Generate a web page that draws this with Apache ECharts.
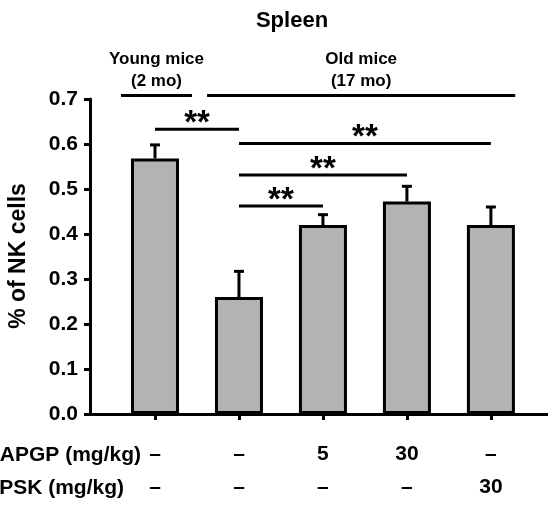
<!DOCTYPE html>
<html>
<head>
<meta charset="utf-8">
<script src="https://cdn.jsdelivr.net/npm/echarts@6/dist/echarts.min.js"></script>
<style>
  html, body { margin: 0; padding: 0; background: #fff; }
  #chart { width: 548px; height: 507px; }
</style>
</head>
<body>
<div id="chart"></div>
<script>
// 数据
const groupIdx = [0, 1, 2, 3, 4];
const apgpDose = ['–', '–', '5', '30', '–'];
const pskDose = ['–', '–', '–', '–', '30'];
const nkMean = [0.568, 0.26, 0.42, 0.472, 0.42];
const nkErr = [0.03, 0.057, 0.023, 0.034, 0.04];
// 显著性标记 [起点, 终点, 高度]
const sigFrom = [0, 1, 1, 1];
const sigTo = [1, 4, 3, 2];
const sigY = [0.633, 0.601, 0.531, 0.462];
const sigText = ['**', '**', '**', '**'];
// 分组标题
const headFrom = [-0.405, 0.62];
const headTo = [0.44, 4.29];
const headText = ['Young mice\n(2 mo)', 'Old mice\n(17 mo)'];
const headY = 0.708;

const FONT = '"Liberation Sans", Arial, sans-serif';

let chart = echarts.init(document.getElementById('chart'));

chart.setOption({
  animation: false,
  grid: { left: 90, right: 0, top: 99, height: 315 },
  xAxis: {
    type: 'value',
    min: -0.774,
    max: 4.68,
    splitLine: { show: false },
    axisLine: { show: true, onZero: false, lineStyle: { color: '#000', width: 3 } },
    axisTick: { show: true, customValues: groupIdx, length: 6, lineStyle: { color: '#000', width: 3 } },
    axisLabel: {
      customValues: groupIdx,
      margin: 24,
      formatter: function (v) {
        let i = Math.round(v);
        return apgpDose[i] + '\n' + pskDose[i];
      },
      fontFamily: FONT,
      fontWeight: 'bold',
      fontSize: 21,
      lineHeight: 33,
      color: '#000'
    }
  },
  yAxis: {
    type: 'value',
    min: 0,
    max: 0.7,
    interval: 0.1,
    splitLine: { show: false },
    axisLine: { show: true, onZero: false, lineStyle: { color: '#000', width: 3 } },
    axisTick: { show: true, length: 6, lineStyle: { color: '#000', width: 3 } },
    axisLabel: {
      margin: 12,
      formatter: v => v.toFixed(1),
      fontFamily: FONT,
      fontWeight: 'bold',
      fontSize: 21,
      color: '#000'
    }
  },
  graphic: [
    {
      type: 'text', x: 292, y: 21,
      style: { text: 'Spleen', fontFamily: FONT, fontWeight: 'bold', fontSize: 22, fill: '#000', align: 'center', verticalAlign: 'middle' }
    },
    {
      type: 'text', x: 19, y: 256, rotation: Math.PI / 2,
      style: { text: '% of NK cells', fontFamily: FONT, fontWeight: 'bold', fontSize: 23, fill: '#000', align: 'center', verticalAlign: 'middle' }
    },
    {
      type: 'text', x: 141, y: 455,
      style: { text: 'APGP (mg/kg)', fontFamily: FONT, fontWeight: 'bold', fontSize: 21, fill: '#000', align: 'right', verticalAlign: 'middle' }
    },
    {
      type: 'text', x: 124, y: 488,
      style: { text: 'PSK (mg/kg)', fontFamily: FONT, fontWeight: 'bold', fontSize: 21, fill: '#000', align: 'right', verticalAlign: 'middle' }
    }
  ],
  series: [
    {
      type: 'bar',
      barWidth: 48,
      itemStyle: { color: '#b3b3b3', borderColor: '#000', borderWidth: 3 },
      data: groupIdx.map((x, i) => [x, nkMean[i]]),
      z: 2
    },
    {
      // 误差线
      type: 'custom',
      z: 3,
      renderItem: function (params, api) {
        let x = api.value(0);
        let top = api.coord([x, api.value(1)]);
        let hi = api.coord([x, api.value(1) + api.value(2)]);
        return {
          type: 'group',
          children: [
            { type: 'line', shape: { x1: top[0], y1: top[1], x2: hi[0], y2: hi[1] }, style: { stroke: '#000', lineWidth: 3 } },
            { type: 'line', shape: { x1: hi[0] - 5, y1: hi[1], x2: hi[0] + 5, y2: hi[1] }, style: { stroke: '#000', lineWidth: 3 } }
          ]
        };
      },
      data: groupIdx.map((x, i) => [x, nkMean[i], nkErr[i]])
    },
    {
      // 显著性
      type: 'custom',
      z: 3,
      clip: false,
      renderItem: function (params, api) {
        let a = api.coord([api.value(0), api.value(2)]);
        let b = api.coord([api.value(1), api.value(2)]);
        return {
          type: 'group',
          children: [
            { type: 'line', shape: { x1: a[0], y1: a[1], x2: b[0], y2: b[1] }, style: { stroke: '#000', lineWidth: 3 } },
            { type: 'text', x: (a[0] + b[0]) / 2, y: a[1] + 11, style: { text: sigText[params.dataIndex], fontFamily: FONT, fontWeight: 'bold', fontSize: 33, fill: '#000', align: 'center', verticalAlign: 'bottom' } }
          ]
        };
      },
      data: sigFrom.map((f, i) => [f, sigTo[i], sigY[i]])
    },
    {
      // 分组标题
      type: 'custom',
      z: 3,
      clip: false,
      renderItem: function (params, api) {
        let a = api.coord([api.value(0), headY]);
        let b = api.coord([api.value(1), headY]);
        return {
          type: 'group',
          children: [
            { type: 'line', shape: { x1: a[0], y1: a[1], x2: b[0], y2: b[1] }, style: { stroke: '#000', lineWidth: 3 } },
            { type: 'text', x: (a[0] + b[0]) / 2, y: a[1] - 3, style: { text: headText[params.dataIndex], fontFamily: FONT, fontWeight: 'bold', fontSize: 17, lineHeight: 22, fill: '#000', align: 'center', verticalAlign: 'bottom' } }
          ]
        };
      },
      data: headFrom.map((f, i) => [f, headTo[i]])
    }
  ]
});
</script>
</body>
</html>
